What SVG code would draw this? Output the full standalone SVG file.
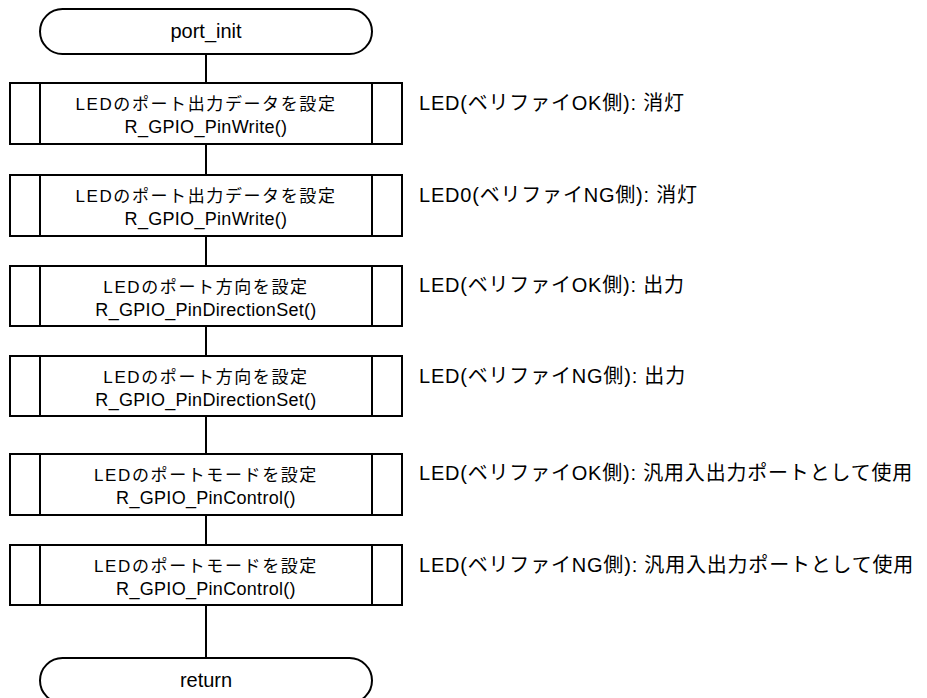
<svg xmlns="http://www.w3.org/2000/svg" width="927" height="698" viewBox="0 0 927 698">
<style>
.s{fill:#fff;stroke:#000;stroke-width:2}
.l{fill:none;stroke:#000;stroke-width:2}
.t{font-family:"Liberation Sans","Noto Sans CJK JP",sans-serif;fill:#000}
.bt{font-size:17px;text-anchor:middle}
.fn{font-size:18px;letter-spacing:0.3px}
.jp{letter-spacing:1.6px}
.big{font-size:20px}
.ann{letter-spacing:0.8px}
.mid{text-anchor:middle}
</style>
<rect width="927" height="698" fill="#fff"/>
<g id="connectors">
<line class="l" x1="206" y1="54" x2="206" y2="83"/>
<line class="l" x1="206" y1="144" x2="206" y2="175"/>
<line class="l" x1="206" y1="236" x2="206" y2="266"/>
<line class="l" x1="206" y1="326" x2="206" y2="356"/>
<line class="l" x1="206" y1="416" x2="206" y2="454"/>
<line class="l" x1="206" y1="515" x2="206" y2="545"/>
<line class="l" x1="206" y1="605" x2="206" y2="658"/>
</g>
<g id="start">
<rect class="s" x="40" y="9" width="332" height="45" rx="22.5"/>
<text class="t big mid" x="206" y="38">port_init</text>
</g>
<g id="box1">
<rect class="s" x="10" y="83" width="392" height="61"/>
<line class="l" x1="40" y1="83" x2="40" y2="144"/><line class="l" x1="372" y1="83" x2="372" y2="144"/>
<text class="t bt jp" x="206" y="110">LEDのポート出力データを設定</text>
<text class="t bt fn" x="206" y="133">R_GPIO_PinWrite()</text>
<text class="t big ann" x="419" y="110">LED(ベリファイOK側): 消灯</text>
</g>
<g id="box2">
<rect class="s" x="10" y="175" width="392" height="61"/>
<line class="l" x1="40" y1="175" x2="40" y2="236"/><line class="l" x1="372" y1="175" x2="372" y2="236"/>
<text class="t bt jp" x="206" y="202">LEDのポート出力データを設定</text>
<text class="t bt fn" x="206" y="225">R_GPIO_PinWrite()</text>
<text class="t big ann" x="419" y="202">LED0(ベリファイNG側): 消灯</text>
</g>
<g id="box3">
<rect class="s" x="10" y="266" width="392" height="60"/>
<line class="l" x1="40" y1="266" x2="40" y2="326"/><line class="l" x1="372" y1="266" x2="372" y2="326"/>
<text class="t bt jp" x="206" y="293">LEDのポート方向を設定</text>
<text class="t bt fn" x="206" y="316">R_GPIO_PinDirectionSet()</text>
<text class="t big ann" x="419" y="292">LED(ベリファイOK側): 出力</text>
</g>
<g id="box4">
<rect class="s" x="10" y="356" width="392" height="60"/>
<line class="l" x1="40" y1="356" x2="40" y2="416"/><line class="l" x1="372" y1="356" x2="372" y2="416"/>
<text class="t bt jp" x="206" y="383">LEDのポート方向を設定</text>
<text class="t bt fn" x="206" y="406">R_GPIO_PinDirectionSet()</text>
<text class="t big ann" x="419" y="383">LED(ベリファイNG側): 出力</text>
</g>
<g id="box5">
<rect class="s" x="10" y="454" width="392" height="61"/>
<line class="l" x1="40" y1="454" x2="40" y2="515"/><line class="l" x1="372" y1="454" x2="372" y2="515"/>
<text class="t bt jp" x="206" y="481">LEDのポートモードを設定</text>
<text class="t bt fn" x="206" y="504">R_GPIO_PinControl()</text>
<text class="t big ann" x="419" y="480">LED(ベリファイOK側): 汎用入出力ポートとして使用</text>
</g>
<g id="box6">
<rect class="s" x="10" y="545" width="392" height="60"/>
<line class="l" x1="40" y1="545" x2="40" y2="605"/><line class="l" x1="372" y1="545" x2="372" y2="605"/>
<text class="t bt jp" x="206" y="572">LEDのポートモードを設定</text>
<text class="t bt fn" x="206" y="595">R_GPIO_PinControl()</text>
<text class="t big ann" x="419" y="572">LED(ベリファイNG側): 汎用入出力ポートとして使用</text>
</g>
<g id="end">
<rect class="s" x="40" y="658" width="332" height="45" rx="22.5"/>
<text class="t big mid" x="206" y="687">return</text>
</g>
</svg>
